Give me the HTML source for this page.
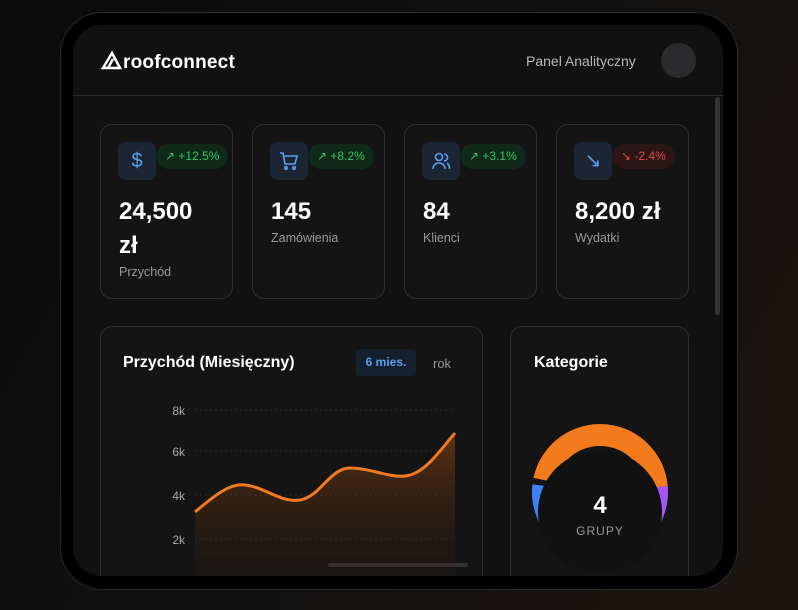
<!DOCTYPE html>
<html><head><meta charset="utf-8"><style>
*{box-sizing:border-box;margin:0;padding:0}
body{width:798px;height:610px;overflow:hidden;background:linear-gradient(120deg,#0b0b0b 0%,#111 50%,#1e140f 100%);font-family:"Liberation Sans",sans-serif;position:relative}
.frame{position:absolute;left:60px;top:12px;width:678px;height:578px;border-radius:42px;background:#000;border:1px solid #2a2a2a}
.screen{position:absolute;left:73px;top:25px;width:650px;height:551px;border-radius:28px;background:#111;overflow:hidden}
.hdr{position:absolute;left:0;top:0;width:650px;height:71px;border-bottom:1px solid #2c2c2c}
.logo{position:absolute;left:28px;top:25px;color:#fff;font-size:19px;font-weight:bold;letter-spacing:0.2px}
.pa{position:absolute;left:453px;top:28px;color:#b8b8b8;font-size:14px}
.av{position:absolute;left:588px;top:18px;width:35px;height:35px;border-radius:50%;background:#2b2b2d}
.sb{position:absolute;left:642px;top:72px;width:5px;height:218px;border-radius:3px;background:#333}
.card{position:absolute;border:1px solid #2e2e30;border-radius:12px;background:#141414}
.ic{position:absolute;left:17px;top:17px;width:38px;height:38px;border-radius:7px;background:#1c2533;color:#5aa0ef;font-size:20px;text-align:center;line-height:38px}
.ic svg{margin-top:9px}
.bd{position:absolute;left:55px;top:19px;height:25px;border-radius:13px;background:#0f2a18;color:#33c564;font-size:12px;line-height:25px;padding:0 9px;white-space:nowrap}
.bd.r{background:#2d1515;color:#e14b4b}
.v{position:absolute;left:18px;top:70px;color:#fff;font-size:24px;font-weight:bold;line-height:34px}
.l{position:absolute;left:18px;color:#9a9a9a;font-size:12.5px}
</style></head><body>
<div class="frame"></div>
<div class="screen">
<div class="hdr">
<div class="logo"><svg width="22" height="20" viewBox="0 0 22 20" style="vertical-align:-2px"><path d="M2 18 L11 3 L19 18 Z M7 18 L12 9" stroke="#fff" stroke-width="2.5" fill="none"/></svg>roofconnect</div>
<div class="pa">Panel Analityczny</div><div class="av"></div>
</div>
<div class="sb"></div>
<div class="card" style="left:27px;top:99px;width:133px;height:175px"><div class="ic">$</div><div class="bd">↗ +12.5%</div><div class="v">24,500<br>zł</div><div class="l" style="top:140px">Przychód</div></div>
<div class="card" style="left:179px;top:99px;width:133px;height:175px"><div class="ic"><svg width="20" height="20" viewBox="0 0 20 20" fill="none" stroke="#5aa0ef" stroke-width="1.6"><path d="M1 2h3l2 11h10l2-8H5"/><circle cx="7" cy="17" r="1.3"/><circle cx="15" cy="17" r="1.3"/></svg></div><div class="bd">↗ +8.2%</div><div class="v">145</div><div class="l" style="top:106px">Zamówienia</div></div>
<div class="card" style="left:331px;top:99px;width:133px;height:175px"><div class="ic"><svg width="20" height="20" viewBox="0 0 20 20" fill="none" stroke="#5aa0ef" stroke-width="1.6"><circle cx="8" cy="6" r="3.5"/><path d="M2 18c0-4 3-6 6-6s6 2 6 6"/><path d="M13 3a3.5 3.5 0 0 1 0 7M16 12c1.5 1 2.5 3 2.5 6"/></svg></div><div class="bd">↗ +3.1%</div><div class="v">84</div><div class="l" style="top:106px">Klienci</div></div>
<div class="card" style="left:483px;top:99px;width:133px;height:175px"><div class="ic">↘</div><div class="bd r">↘ -2.4%</div><div class="v">8,200 zł</div><div class="l" style="top:106px">Wydatki</div></div>
<div class="card" style="left:27px;top:301px;width:383px;height:280px">
<div style="position:absolute;left:22px;top:27px;color:#fff;font-size:16px;font-weight:bold">Przychód (Miesięczny)</div>
<div style="position:absolute;left:255px;top:22px;width:60px;height:27px;border-radius:4px;background:#15202e;color:#5aa0ef;font-size:12px;font-weight:bold;line-height:27px;text-align:center">6 mies.</div>
<div style="position:absolute;left:332px;top:29px;color:#999;font-size:13px">rok</div>
</div>
<div class="card" style="left:437px;top:301px;width:179px;height:280px">
<div style="position:absolute;left:23px;top:27px;color:#fff;font-size:16px;font-weight:bold">Kategorie</div>
</div>
<div style="position:absolute;left:255px;top:538px;width:140px;height:4px;border-radius:2px;background:#333"></div>
</div>
<svg width="798" height="610" style="position:absolute;left:0;top:0">
<defs><linearGradient id="g" x1="0" y1="0" x2="0" y2="1"><stop offset="0" stop-color="#8a4512" stop-opacity="0.6"/><stop offset="1" stop-color="#3a1e0a" stop-opacity="0.1"/></linearGradient>
<clipPath id="c"><rect x="73" y="25" width="650" height="551"/></clipPath></defs>
<g font-family="Liberation Sans" font-size="12" fill="#aaa" text-anchor="end">
<text x="185" y="415">8k</text><text x="185" y="456">6k</text><text x="185" y="500">4k</text><text x="185" y="544">2k</text></g>
<g stroke="#2a2a2a" stroke-dasharray="2 3"><line x1="195" y1="410" x2="455" y2="410"/><line x1="195" y1="451" x2="455" y2="451"/><line x1="195" y1="495" x2="455" y2="495"/><line x1="195" y1="539" x2="455" y2="539"/></g>
<g clip-path="url(#c)">
<path d="M195 512 C215 495,230 483,245 485 C265 487,280 503,300 500 C320 497,330 468,350 468 C370 468,390 478,405 476 C425 474,440 450,455 433 L455 580 L195 580 Z" fill="url(#g)"/>
<path d="M195 512 C215 495,230 483,245 485 C265 487,280 503,300 500 C320 497,330 468,350 468 C370 468,390 478,405 476 C425 474,440 450,455 433" stroke="#f07a22" stroke-width="3" fill="none"/>
<g transform="translate(600,492)" fill="none" stroke-width="22">
<circle r="57" stroke="#f47a1e" stroke-dasharray="162 400" transform="rotate(192)"/>
<circle r="57" stroke="#a855f7" stroke-dasharray="64 400" transform="rotate(-5)"/>
<circle r="57" stroke="#22c55e" stroke-dasharray="50 400" transform="rotate(64)"/>
<circle r="57" stroke="#3b82f6" stroke-dasharray="68 400" transform="rotate(118)"/>
</g>
<circle cx="600" cy="512" r="62" fill="#111"/>
</g>
<text x="600" y="513" text-anchor="middle" font-family="Liberation Sans" font-size="24" font-weight="bold" fill="#fff">4</text>
<text x="600" y="535" text-anchor="middle" font-family="Liberation Sans" font-size="12" fill="#999" letter-spacing="1">GRUPY</text>
</svg>
</body></html>
